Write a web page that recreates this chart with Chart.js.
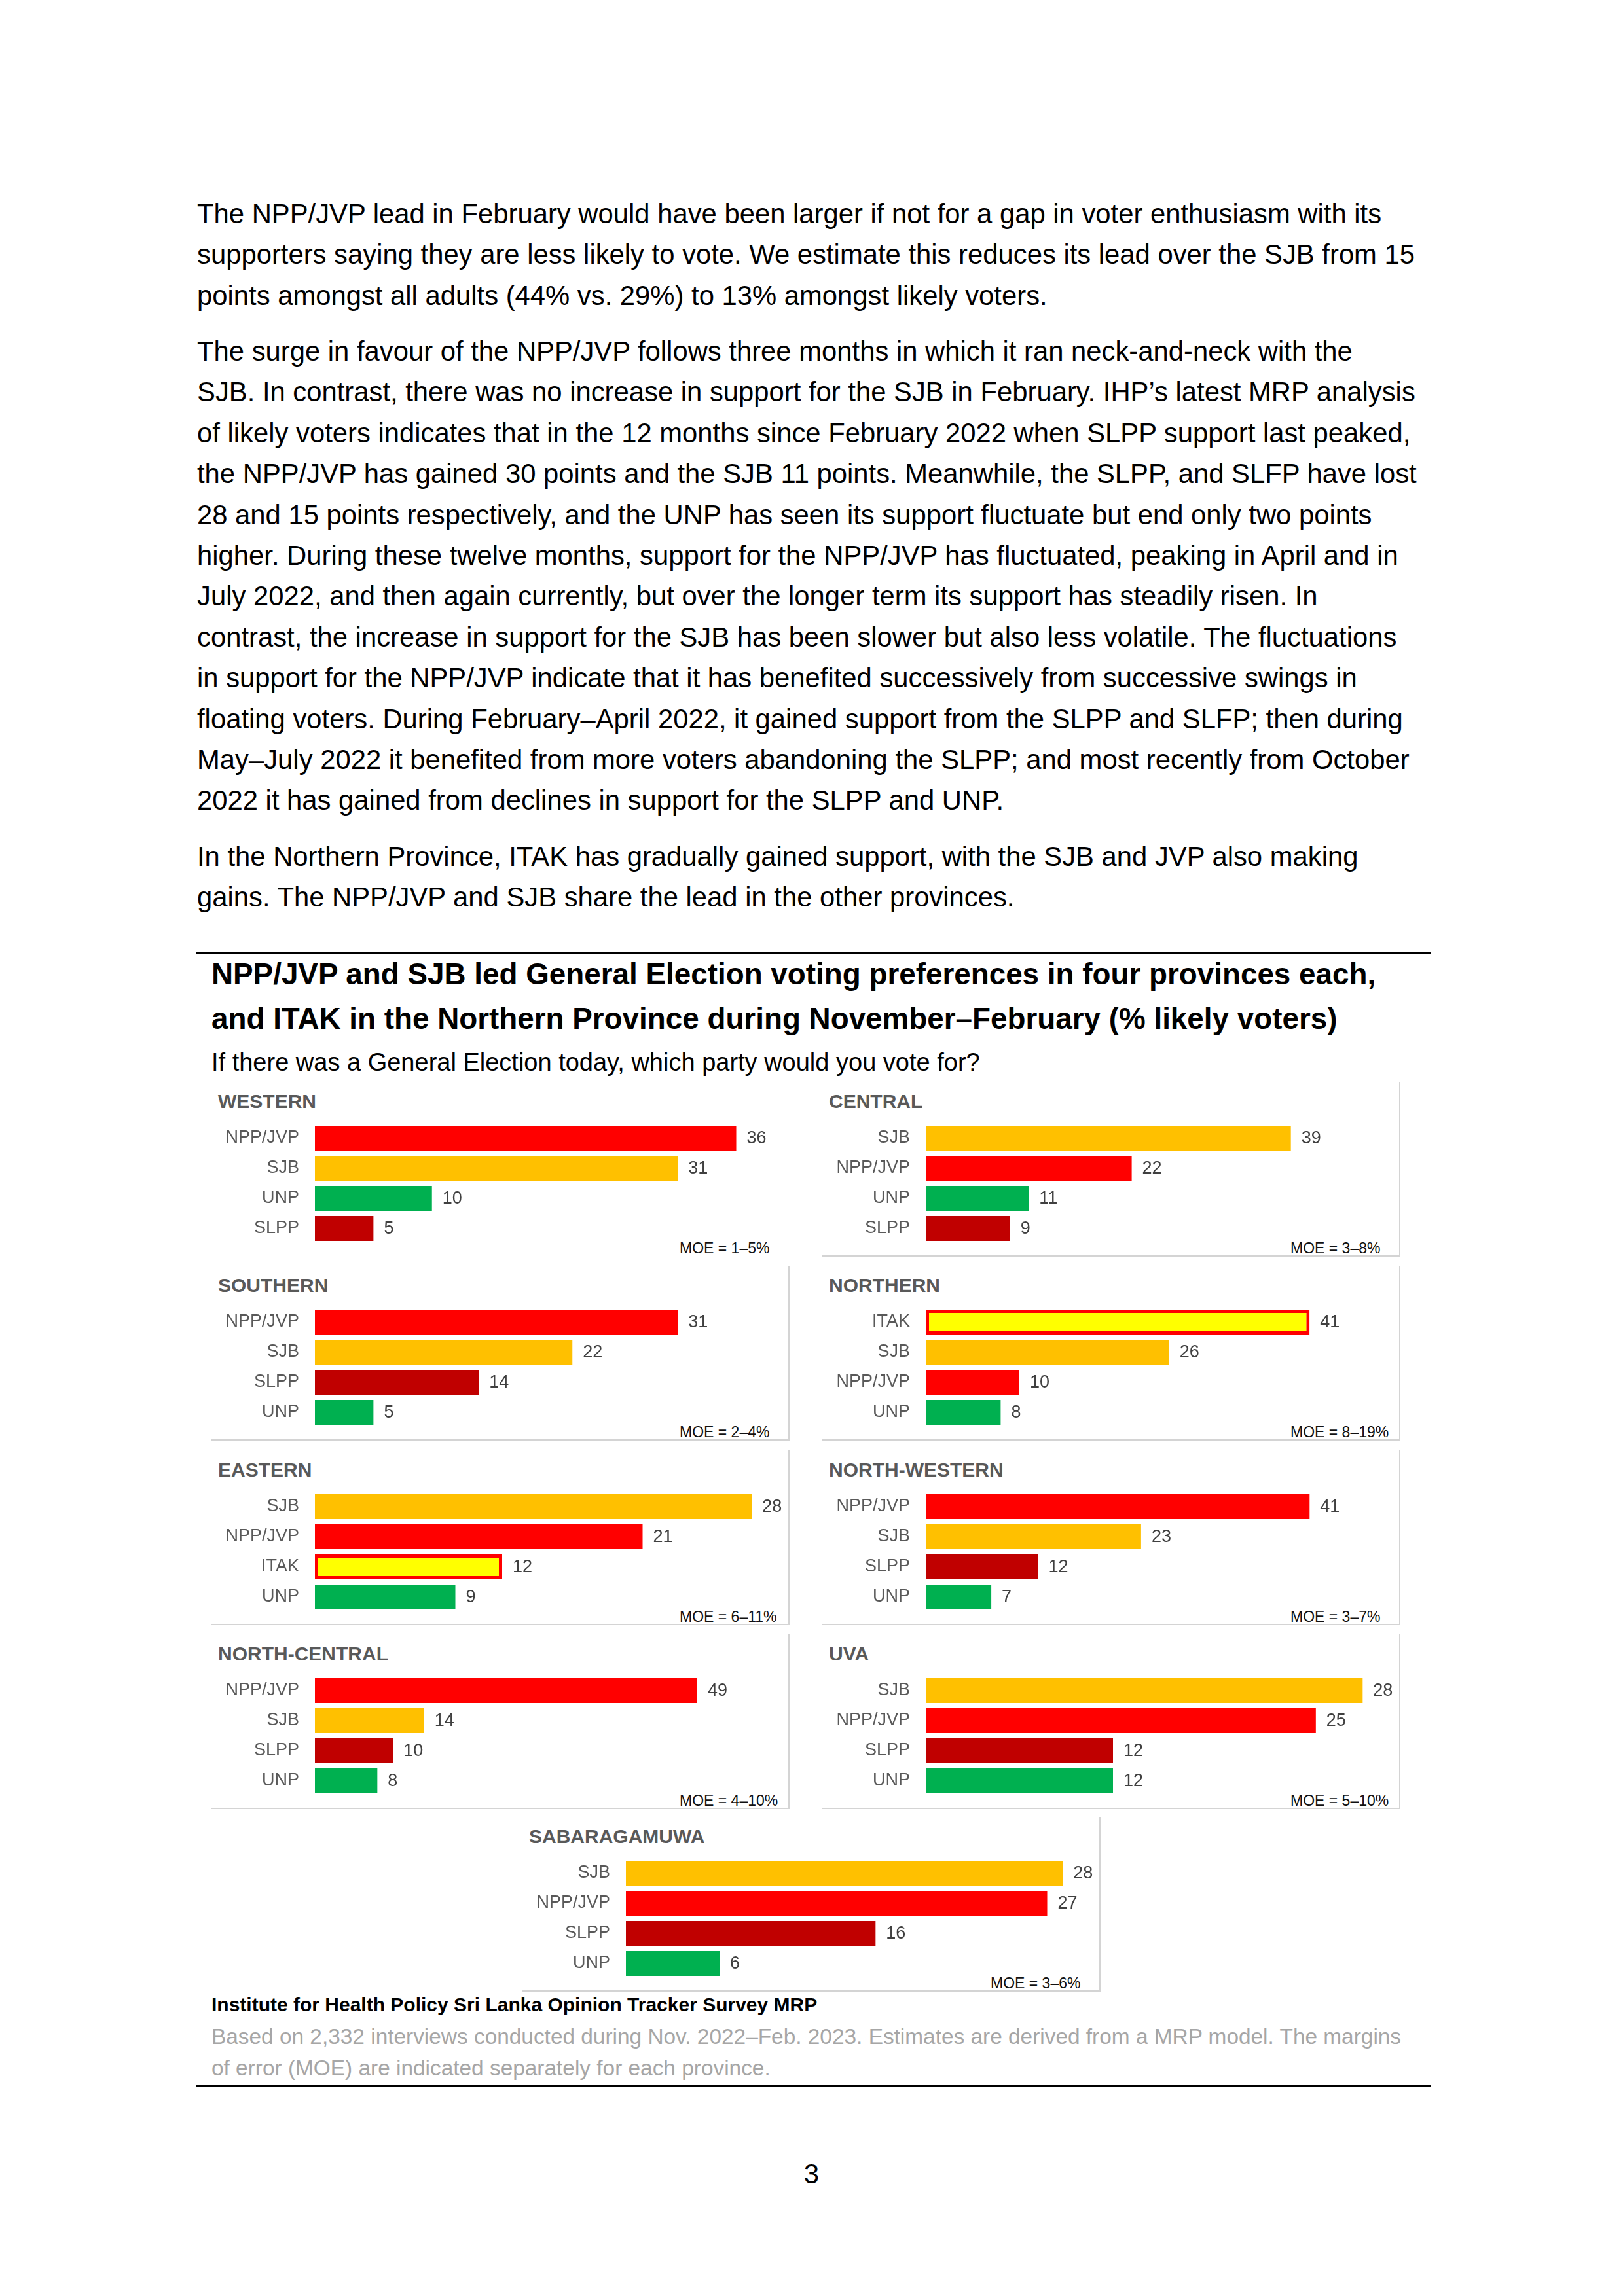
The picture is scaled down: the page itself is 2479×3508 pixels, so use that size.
<!DOCTYPE html>
<html>
<head>
<meta charset="utf-8">
<script src="https://cdn.jsdelivr.net/npm/chart.js@4.4.0/dist/chart.umd.min.js"></script>
<style>
  html, body { margin: 0; padding: 0; background: #fff; }
  #page { position: relative; width: 2479px; height: 3508px; background: #fff;
          font-family: "Liberation Sans", Arial, sans-serif; color: #000; overflow: hidden; }
  .block { position: absolute; left: 301px; white-space: nowrap; }
  .para { font-size: 41.8px; line-height: 62.4px; }
  .title { left: 323px; font-size: 45.8px; font-weight: bold; line-height: 68px; }
  .subtitle { left: 323px; font-size: 38px; line-height: 44px; }
  .rule { position: absolute; left: 299px; width: 1886px; background: #000; }
  .panel { position: absolute; width: 884px; height: 267px; box-sizing: border-box; }
  .panel.framed { border-right: 2px solid #d4d4d4; border-bottom: 2px solid #d4d4d4; }
  .ptitle { position: absolute; left: 11px; top: 10px; font-size: 30px; font-weight: bold;
            color: #595959; line-height: 40px; white-space: nowrap; }
  .moe { position: absolute; left: 716px; top: 239px; font-size: 23px; line-height: 30px;
         color: #111; white-space: nowrap; }
  .panel canvas { position: absolute; left: 0; top: 43px; }
  .source { left: 323px; font-size: 30px; font-weight: bold; line-height: 40px; }
  .note { left: 323px; font-size: 33.4px; line-height: 48px; color: #a6a6a6; }
  .pageno { position: absolute; left: 0; width: 2479px; text-align: center; font-size: 42px; }
</style>
</head>
<body>
<div id="page">
  <div class="block para" style="top:296px">
    <div>The NPP/JVP lead in February would have been larger if not for a gap in voter enthusiasm with its</div>
    <div>supporters saying they are less likely to vote. We estimate this reduces its lead over the SJB from 15</div>
    <div>points amongst all adults (44% vs. 29%) to 13% amongst likely voters.</div>
  </div>
  <div class="block para" style="top:506px">
    <div>The surge in favour of the NPP/JVP follows three months in which it ran neck-and-neck with the</div>
    <div>SJB. In contrast, there was no increase in support for the SJB in February. IHP’s latest MRP analysis</div>
    <div>of likely voters indicates that in the 12 months since February 2022 when SLPP support last peaked,</div>
    <div>the NPP/JVP has gained 30 points and the SJB 11 points. Meanwhile, the SLPP, and SLFP have lost</div>
    <div>28 and 15 points respectively, and the UNP has seen its support fluctuate but end only two points</div>
    <div>higher. During these twelve months, support for the NPP/JVP has fluctuated, peaking in April and in</div>
    <div>July 2022, and then again currently, but over the longer term its support has steadily risen. In</div>
    <div>contrast, the increase in support for the SJB has been slower but also less volatile. The fluctuations</div>
    <div>in support for the NPP/JVP indicate that it has benefited successively from successive swings in</div>
    <div>floating voters. During February–April 2022, it gained support from the SLPP and SLFP; then during</div>
    <div>May–July 2022 it benefited from more voters abandoning the SLPP; and most recently from October</div>
    <div>2022 it has gained from declines in support for the SLPP and UNP.</div>
  </div>
  <div class="block para" style="top:1278px">
    <div>In the Northern Province, ITAK has gradually gained support, with the SJB and JVP also making</div>
    <div>gains. The NPP/JVP and SJB share the lead in the other provinces.</div>
  </div>

  <div class="rule" style="top:1454px;height:4px"></div>
  <div class="block title" style="top:1455px">
    <div>NPP/JVP and SJB led General Election voting preferences in four provinces each,</div>
    <div>and ITAK in the Northern Province during November–February (% likely voters)</div>
  </div>
  <div class="block subtitle" style="top:1601px">If there was a General Election today, which party would you vote for?</div>

  <div id="panels"></div>

  <div class="block source" style="top:3043px">Institute for Health Policy Sri Lanka Opinion Tracker Survey MRP</div>
  <div class="block note" style="top:3088px">
    <div>Based on 2,332 interviews conducted during Nov. 2022–Feb. 2023. Estimates are derived from a MRP model. The margins</div>
    <div>of error (MOE) are indicated separately for each province.</div>
  </div>
  <div class="rule" style="top:3186px;height:3px"></div>
  <div class="pageno" style="top:3296px;line-height:52px">3</div>
</div>

<script>
// results by province, parties listed in the order they are shown
const provinces = ['WESTERN', 'CENTRAL', 'SOUTHERN', 'NORTHERN', 'EASTERN',
                   'NORTH-WESTERN', 'NORTH-CENTRAL', 'UVA', 'SABARAGAMUWA'];
const parties = [
  ['NPP/JVP', 'SJB', 'UNP', 'SLPP'],
  ['SJB', 'NPP/JVP', 'UNP', 'SLPP'],
  ['NPP/JVP', 'SJB', 'SLPP', 'UNP'],
  ['ITAK', 'SJB', 'NPP/JVP', 'UNP'],
  ['SJB', 'NPP/JVP', 'ITAK', 'UNP'],
  ['NPP/JVP', 'SJB', 'SLPP', 'UNP'],
  ['NPP/JVP', 'SJB', 'SLPP', 'UNP'],
  ['SJB', 'NPP/JVP', 'SLPP', 'UNP'],
  ['SJB', 'NPP/JVP', 'SLPP', 'UNP']
];
const shares = [
  [36, 31, 10, 5],
  [39, 22, 11, 9],
  [31, 22, 14, 5],
  [41, 26, 10, 8],
  [28, 21, 12, 9],
  [41, 23, 12, 7],
  [49, 14, 10, 8],
  [28, 25, 12, 12],
  [28, 27, 16, 6]
];
const moe = ['MOE = 1–5%', 'MOE = 3–8%', 'MOE = 2–4%', 'MOE = 8–19%', 'MOE = 6–11%',
             'MOE = 3–7%', 'MOE = 4–10%', 'MOE = 5–10%', 'MOE = 3–6%'];
// axis maximum of each panel (hidden axis)
const axisMax = [40, 50, 40, 50, 30, 50, 60, 30, 30];

const partyColours = {
  'NPP/JVP': '#FF0000',
  'SJB': '#FFC000',
  'UNP': '#00B050',
  'SLPP': '#C00000',
  'ITAK': '#FFFF00'
};

// panel grid: left column, right column, last one centred
const colX = [322, 1255, 797];
const rowY = [1653, 1934, 2216, 2497, 2776];
const slots = [[0,0],[1,0],[0,1],[1,1],[0,2],[1,2],[0,3],[1,3],[2,4]];

const FONT = '"Liberation Sans", Arial, sans-serif';
Chart.defaults.font.family = FONT;

const valueLabels = {
  id: 'valueLabels',
  afterDatasetsDraw(chart) {
    const ctx = chart.ctx;
    const ds = chart.data.datasets[0];
    ctx.save();
    ctx.font = '27px ' + FONT;
    ctx.fillStyle = '#404040';
    ctx.textAlign = 'left';
    ctx.textBaseline = 'middle';
    chart.getDatasetMeta(0).data.forEach((bar, i) => {
      ctx.fillText(String(ds.data[i]), bar.x + 16, bar.y + 1);
    });
    ctx.restore();
  }
};

const holder = document.getElementById('panels');

provinces.forEach((name, i) => {
  const [c, r] = slots[i];
  const panel = document.createElement('div');
  panel.className = 'panel' + (i === 0 ? '' : ' framed');
  panel.style.left = colX[c] + 'px';
  panel.style.top = rowY[r] + 'px';

  const t = document.createElement('div');
  t.className = 'ptitle';
  t.textContent = name;
  panel.appendChild(t);

  const m = document.createElement('div');
  m.className = 'moe';
  m.textContent = moe[i];
  panel.appendChild(m);

  const cv = document.createElement('canvas');
  cv.width = 884;
  cv.height = 224;
  panel.appendChild(cv);
  holder.appendChild(panel);

  const labels = parties[i];
  new Chart(cv, {
    type: 'bar',
    data: {
      labels: labels,
      datasets: [{
        data: shares[i],
        backgroundColor: labels.map(p => partyColours[p]),
        borderColor: labels.map(p => p === 'ITAK' ? '#FF0000' : 'rgba(0,0,0,0)'),
        borderWidth: labels.map(p => p === 'ITAK' ? 5 : 0),
        borderSkipped: false,
        barPercentage: 0.83,
        categoryPercentage: 1
      }]
    },
    options: {
      indexAxis: 'y',
      responsive: false,
      animation: false,
      devicePixelRatio: 1,
      layout: { padding: { top: 20, bottom: 20, left: 0, right: 10 } },
      plugins: { legend: { display: false }, tooltip: { enabled: false } },
      scales: {
        x: { display: false, min: 0, max: axisMax[i] },
        y: {
          grid: { display: false, drawTicks: true, tickLength: 24 },
          border: { display: false },
          ticks: { color: '#595959', font: { size: 27 }, padding: 0 },
          afterFit(scale) { scale.width = 159; }
        }
      }
    },
    plugins: [valueLabels]
  });
});
</script>
</body>
</html>
